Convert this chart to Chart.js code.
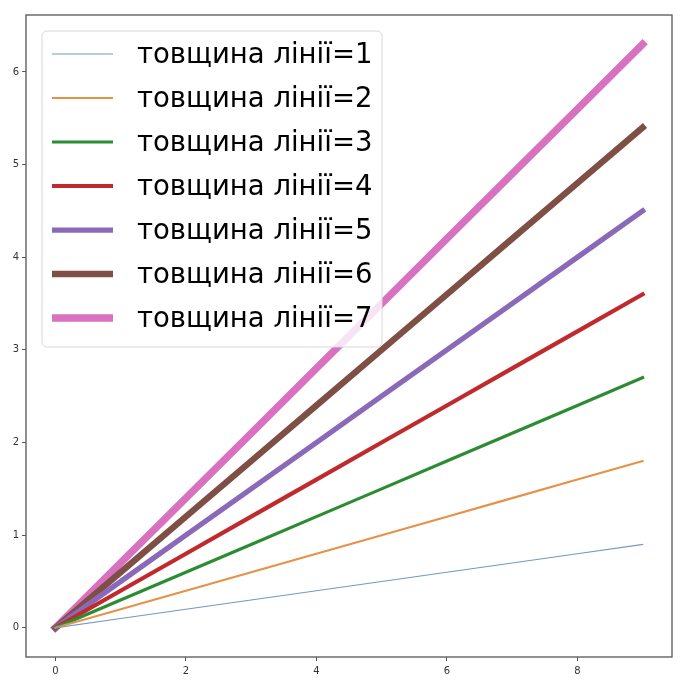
<!DOCTYPE html>
<html>
<head>
<meta charset="utf-8">
<script src="https://cdn.jsdelivr.net/npm/chart.js@4.4.0/dist/chart.umd.min.js"></script>
<style>
  html, body { margin: 0; padding: 0; background: #fff; }
  #wrap { width: 686px; height: 688px; }
</style>
</head>
<body>
<div id="wrap"><canvas id="lines"></canvas></div>
<script>
const xs = [0, 1, 2, 3, 4, 5, 6, 7, 8, 9];
const lineWidths = [1, 2, 3, 4, 5, 6, 7];
const series = [
  [0, 0.1, 0.2, 0.3, 0.4, 0.5, 0.6, 0.7, 0.8, 0.9],
  [0, 0.2, 0.4, 0.6, 0.8, 1.0, 1.2, 1.4, 1.6, 1.8],
  [0, 0.3, 0.6, 0.9, 1.2, 1.5, 1.8, 2.1, 2.4, 2.7],
  [0, 0.4, 0.8, 1.2, 1.6, 2.0, 2.4, 2.8, 3.2, 3.6],
  [0, 0.5, 1.0, 1.5, 2.0, 2.5, 3.0, 3.5, 4.0, 4.5],
  [0, 0.6, 1.2, 1.8, 2.4, 3.0, 3.6, 4.2, 4.8, 5.4],
  [0, 0.7, 1.4, 2.1, 2.8, 3.5, 4.2, 4.9, 5.6, 6.3]
];
const colors = ['#7199bf', '#e69149', '#2b8c33', '#c02a2d', '#8b69b9', '#7f4e45', '#d872c0'];
const xTicks = [0, 2, 4, 6, 8];
const yTicks = [0, 1, 2, 3, 4, 5, 6];

// legend in a rounded box inside the plot, like matplotlib's
const boxLegend = {
  id: 'boxLegend',
  afterDatasetsDraw(chart) {
    const { ctx, chartArea: a } = chart;
    const x0 = a.left + 16, y0 = a.top + 16, w = 340, h = 316;
    ctx.save();
    ctx.beginPath();
    ctx.roundRect(x0, y0, w, h, 5);
    ctx.fillStyle = 'rgba(255,255,255,0.8)';
    ctx.fill();
    ctx.strokeStyle = '#d8d8d8';
    ctx.lineWidth = 1;
    ctx.stroke();
    ctx.font = '27.5px "DejaVu Sans"';
    ctx.textBaseline = 'middle';
    chart.data.datasets.forEach((ds, i) => {
      const y = y0 + 23 + i * 44;
      ctx.beginPath();
      ctx.moveTo(x0 + 10, y);
      ctx.lineTo(x0 + 71, y);
      ctx.strokeStyle = ds.borderColor;
      ctx.lineWidth = ds.borderWidth;
      ctx.lineCap = 'butt';
      ctx.stroke();
      ctx.fillStyle = '#000';
      ctx.fillText(ds.label, x0 + 95, y + 2);
    });
    ctx.restore();
  }
};

// full box around the axes
const frame = {
  id: 'frame',
  afterDraw(chart) {
    const { ctx, chartArea: a } = chart;
    ctx.save();
    ctx.strokeStyle = '#555';
    ctx.lineWidth = 1.3;
    ctx.strokeRect(a.left, a.top, a.right - a.left, a.bottom - a.top);
    ctx.restore();
  }
};

const tickStyle = { color: '#333', font: { family: 'DejaVu Sans', size: 10 } };

new Chart(document.getElementById('lines'), {
  type: 'line',
  data: {
    labels: xs,
    datasets: series.map((ys, i) => ({
      label: `товщина лінії=${lineWidths[i]}`,
      data: ys.map((y, j) => ({ x: xs[j], y })),
      borderColor: colors[i],
      borderWidth: lineWidths[i] * 1.05,
      borderCapStyle: 'square',
      pointRadius: 0,
      tension: 0,
      fill: false
    }))
  },
  options: {
    responsive: true,
    maintainAspectRatio: false,
    animation: false,
    layout: { padding: { top: 15, right: 14, left: 0, bottom: 0 } },
    plugins: { legend: { display: false }, tooltip: { enabled: false } },
    scales: {
      x: {
        type: 'linear',
        min: -0.45,
        max: 9.45,
        afterBuildTicks: s => { s.ticks = xTicks.map(v => ({ value: v })); },
        afterFit: s => { s.height = 31; },
        grid: { drawOnChartArea: false, tickLength: 4, tickColor: '#555' },
        border: { display: false },
        ticks: { ...tickStyle, padding: 4, maxRotation: 0 }
      },
      y: {
        type: 'linear',
        min: -0.315,
        max: 6.615,
        afterBuildTicks: s => { s.ticks = yTicks.map(v => ({ value: v })); },
        afterFit: s => { s.width = 26; },
        grid: { drawOnChartArea: false, tickLength: 4, tickColor: '#555' },
        border: { display: false },
        ticks: { ...tickStyle, padding: 3 }
      }
    }
  },
  plugins: [boxLegend, frame]
});
</script>
</body>
</html>
